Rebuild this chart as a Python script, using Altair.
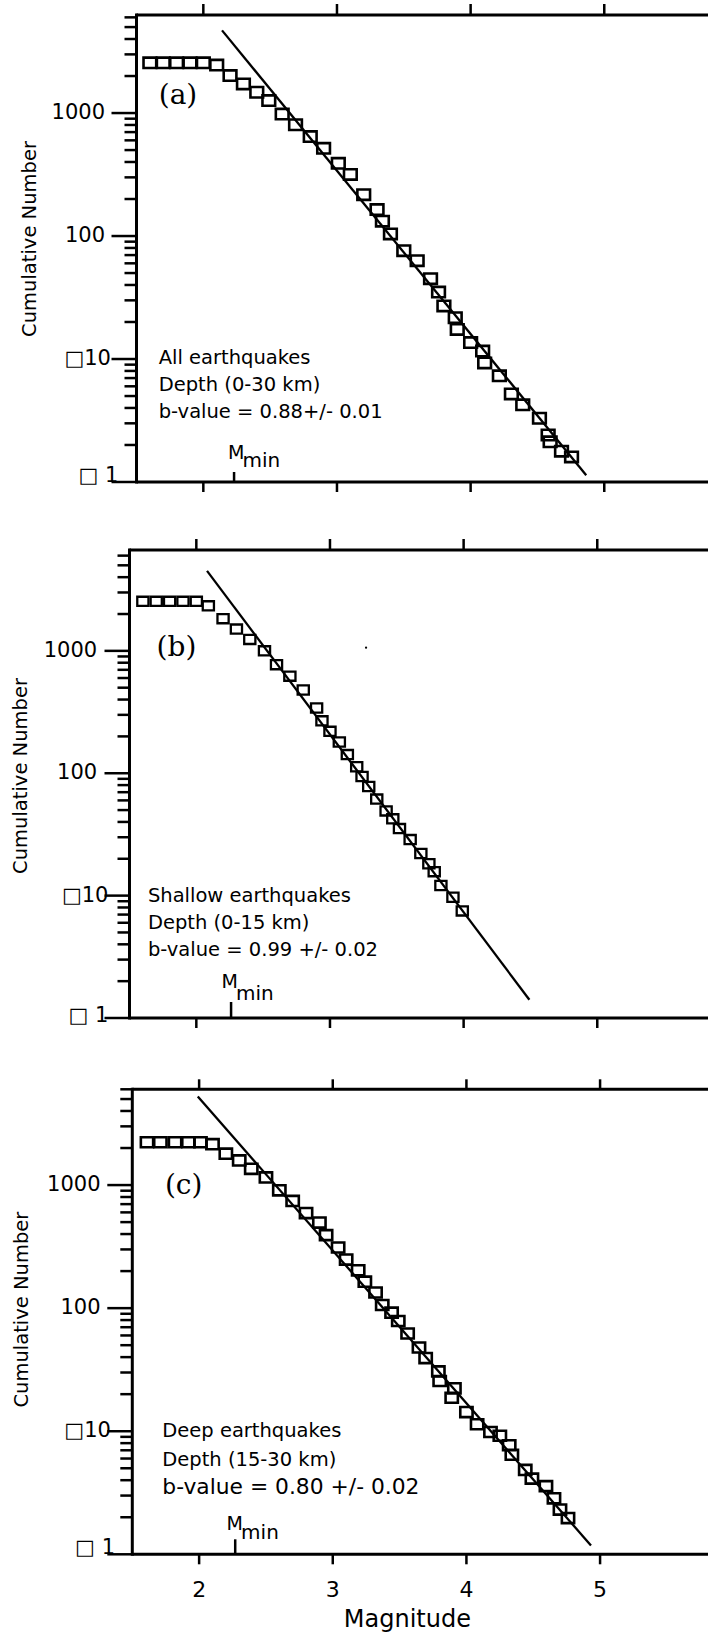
import math
import altair as alt
import pandas as pd

# ---------------- data ----------------
# Panel (a) all earthquakes
mag_a = [1.60, 1.70, 1.80, 1.90, 2.00, 2.10, 2.20, 2.30, 2.40, 2.49, 2.59, 2.69, 2.80,
         2.90, 3.01, 3.10, 3.20, 3.30, 3.34, 3.40, 3.50, 3.60, 3.70, 3.76, 3.80, 3.885,
         3.90, 4.00, 4.09, 4.105, 4.215, 4.305, 4.39, 4.515, 4.58, 4.595, 4.68, 4.755]
num_a = [2560, 2560, 2560, 2560, 2560, 2455, 2018, 1726, 1476, 1262, 981, 803, 644,
         517, 390, 317, 217, 164, 132, 104, 76, 63, 45, 35, 27, 21.7,
         17.4, 13.6, 11.6, 9.3, 7.3, 5.2, 4.24, 3.3, 2.41, 2.12, 1.78, 1.6]
fit_a_mag = [2.14, 4.865]
fit_a_num = [4700, 1.135]

# Panel (b) shallow earthquakes
mag_b = [1.60, 1.70, 1.80, 1.90, 2.00, 2.09, 2.20, 2.30, 2.40, 2.51, 2.60, 2.70, 2.80,
         2.90, 2.94, 3.00, 3.07, 3.13, 3.20, 3.24, 3.29, 3.35, 3.42, 3.47, 3.52, 3.60,
         3.68, 3.74, 3.78, 3.83, 3.92, 3.99]
num_b = [2540, 2540, 2540, 2540, 2540, 2333, 1833, 1507, 1240, 1000, 771, 621, 479,
         341, 268, 220, 180, 142, 113, 94, 78, 61.5, 49.2, 42.4, 35.3, 28.7,
         22.1, 18.2, 15.7, 12.1, 9.7, 7.5]
fit_b_mag = [2.08, 4.492]
fit_b_num = [4500, 1.41]
dot_b_mag = [3.27]
dot_b_num = [1062]

# Panel (c) deep earthquakes
mag_c = [1.61, 1.71, 1.82, 1.92, 2.01, 2.10, 2.20, 2.30, 2.39, 2.50, 2.60, 2.70, 2.80,
         2.90, 2.95, 3.04, 3.10, 3.19, 3.24, 3.32, 3.37, 3.44, 3.49, 3.56, 3.645, 3.695,
         3.79, 3.80, 3.91, 3.89, 4.00, 4.08, 4.18, 4.25, 4.32, 4.34, 4.44, 4.49, 4.595,
         4.655, 4.70, 4.76]
num_c = [2228, 2228, 2228, 2228, 2228, 2148, 1800, 1585, 1356, 1153, 906, 743, 592,
         496, 392, 311, 248, 203, 164, 134, 106, 91.9, 78.6, 62.2, 47.9, 39.3,
         30.6, 25.6, 22.3, 18.7, 14.3, 11.4, 9.86, 9.19, 7.69, 6.44, 4.85, 4.12, 3.58,
         2.85, 2.31, 1.97]
fit_c_mag = [1.99, 4.932]
fit_c_num = [5250, 1.18]

# axis ticks / labels
x_tick_values = [2, 3, 4, 5]
x_tick_labels = ["2", "3", "4", "5"]
y_major_values = [1, 10, 100, 1000]
y_minor_values = [2, 3, 4, 5, 6, 7, 8, 9, 20, 30, 40, 50, 60, 70, 80, 90,
                  200, 300, 400, 500, 600, 700, 800, 900, 2000, 3000, 4000, 5000, 6000]
y_big_labels = ["1000", "100"]
y_big_values = [1000, 100]
y_label_10 = "\u25a110"
y_label_1 = "\u25a1 1"

# annotation texts
texts_a = ["All earthquakes", "Depth (0-30 km)", "b-value = 0.88+/- 0.01"]
texts_b = ["Shallow earthquakes", "Depth (0-15 km)", "b-value = 0.99 +/- 0.02"]
texts_c = ["Deep earthquakes", "Depth (15-30 km)", "b-value = 0.80 +/- 0.02"]

FONT = "DejaVu Sans"
CANVAS_W, CANVAS_H = 709, 1633
X_MIN = 1.5
PXM = 133.65  # pixels per magnitude unit
SQ = "M-1,-0.82L1,-0.82L1,0.82L-1,0.82Z"


def panel_layers(cfg):
    L, T, W, H, ymax = cfg["left"], cfg["top"], cfg["w"], cfg["h"], cfg["ymax"]
    xmax = X_MIN + W / PXM
    lmax = math.log10(ymax)
    xs = alt.Scale(domain=[X_MIN, xmax], range=[L, L + W], nice=False, zero=False)
    ys = alt.Scale(type="log", domain=[1, ymax], range=[T + H, T], nice=False)

    def X(f="m"):
        return alt.X(f + ":Q", scale=xs, axis=None)

    def Y(f="n"):
        return alt.Y(f + ":Q", scale=ys, axis=None)

    # position given in pixels from plot's top-left -> data coordinates
    def dm(px):
        return X_MIN + px / PXM

    def dn(py):
        return 10 ** (lmax * (1 - py / H))

    out = []
    frame = pd.DataFrame({"m1": [X_MIN], "m2": [xmax], "n1": [1], "n2": [ymax]})
    out.append(alt.Chart(frame).mark_rule(color="black", strokeWidth=3, strokeCap="square")
               .encode(x=X("m1"), y=Y("n1"), y2=alt.Y2("n2")))
    out.append(alt.Chart(frame).mark_rule(color="black", strokeWidth=3)
               .encode(x=X("m1"), x2=alt.X2("m2"), y=Y("n2")))
    out.append(alt.Chart(frame).mark_rule(color="black", strokeWidth=3)
               .encode(x=X("m1"), x2=alt.X2("m2"), y=Y("n1")))

    xt = pd.DataFrame({"m": x_tick_values, "lo": [1] * 4, "hi": [ymax] * 4,
                       "t": x_tick_labels})
    out.append(alt.Chart(xt).mark_rule(color="black", strokeWidth=2.5, y2Offset=10)
               .encode(x=X("m"), y=Y("lo"), y2=alt.Y2("lo")))
    out.append(alt.Chart(xt).mark_rule(color="black", strokeWidth=2.5,
                                       y2Offset=-cfg["top_len"])
               .encode(x=X("m"), y=Y("hi"), y2=alt.Y2("hi")))

    minor = [v for v in y_minor_values if v <= ymax]
    ymn = pd.DataFrame({"n": minor, "m": [X_MIN] * len(minor)})
    out.append(alt.Chart(ymn).mark_rule(color="black", strokeWidth=2.5, x2Offset=-12)
               .encode(y=Y("n"), x=X("m"), x2=alt.X2("m")))
    ymj = pd.DataFrame({"n": y_major_values, "m": [X_MIN] * 4})
    out.append(alt.Chart(ymj).mark_rule(color="black", strokeWidth=2.5, x2Offset=-25)
               .encode(y=Y("n"), x=X("m"), x2=alt.X2("m")))

    big = pd.DataFrame({"n": y_big_values, "t": y_big_labels, "m": [X_MIN] * 2})
    out.append(alt.Chart(big).mark_text(font=FONT, fontSize=21, align="right",
                                        baseline="middle", color="black",
                                        dx=cfg["lab_big_x"])
               .encode(x=X("m"), y=Y("n"), text="t:N"))
    out.append(alt.Chart(pd.DataFrame({"n": [10], "t": [y_label_10], "m": [X_MIN]}))
               .mark_text(font=FONT, fontSize=21, align="right", baseline="middle",
                          color="black", dx=cfg["lab10_x"])
               .encode(x=X("m"), y=Y("n"), text="t:N"))
    out.append(alt.Chart(pd.DataFrame({"n": [1], "t": [y_label_1], "m": [X_MIN]}))
               .mark_text(font=FONT, fontSize=21, align="right", baseline="alphabetic",
                          color="black", dx=cfg["lab1_x"], dy=cfg["lab1_dy"])
               .encode(x=X("m"), y=Y("n"), text="t:N"))

    # y title
    out.append(alt.Chart(pd.DataFrame({"m": [dm(cfg["title_x"])], "n": [dn(cfg["title_y"])],
                                       "t": ["Cumulative Number"]}))
               .mark_text(font=FONT, fontSize=19.5, angle=270, align="center",
                          baseline="middle", color="black")
               .encode(x=X("m"), y=Y("n"), text="t:N"))

    if cfg["show_x"]:
        out.append(alt.Chart(xt).mark_text(font=FONT, fontSize=22, align="center",
                                           baseline="alphabetic", color="black", dy=42.4)
                   .encode(x=X("m"), y=Y("lo"), text="t:N"))
        out.append(alt.Chart(pd.DataFrame({"m": [dm(cfg["xtitle_x"])], "n": [1],
                                           "t": ["Magnitude"]}))
                   .mark_text(font=FONT, fontSize=24, align="center",
                              baseline="alphabetic", color="black", dy=72.7)
                   .encode(x=X("m"), y=Y("n"), text="t:N"))

    # data
    pts = pd.DataFrame({"m": cfg["mags"], "n": cfg["nums"]})
    out.append(alt.Chart(pts).mark_point(shape=SQ, filled=False, stroke="black",
                                         strokeWidth=cfg["sw"], size=cfg["size"], opacity=1)
               .encode(x=X(), y=Y()))
    out.append(alt.Chart(pd.DataFrame({"m": cfg["fit_m"], "n": cfg["fit_n"]}))
               .mark_line(color="black", strokeWidth=2.3).encode(x=X(), y=Y()))
    if cfg.get("dot_m"):
        out.append(alt.Chart(pd.DataFrame({"m": cfg["dot_m"], "n": cfg["dot_n"]}))
                   .mark_point(shape="circle", filled=True, color="black", size=5, opacity=1)
                   .encode(x=X(), y=Y()))

    # M_min marker
    mm = pd.DataFrame({"m": [cfg["mmin"]], "n": [1]})
    out.append(alt.Chart(mm).mark_rule(color="black", strokeWidth=2.5,
                                       y2Offset=-cfg["mmin_len"])
               .encode(x=X("m"), y=Y("n"), y2=alt.Y2("n")))
    out.append(alt.Chart(mm).mark_text(font=FONT, fontSize=19, align="left",
                                       baseline="alphabetic", color="black",
                                       dx=cfg["min_dx"] - 14.5, dy=-cfg["M_base"])
               .encode(x=X("m"), y=Y("n"), text=alt.value("M")))
    out.append(alt.Chart(mm).mark_text(font=FONT, fontSize=20, align="left",
                                       baseline="alphabetic", color="black",
                                       dx=cfg["min_dx"], dy=-cfg["min_base"])
               .encode(x=X("m"), y=Y("n"), text=alt.value("min")))

    # panel tag and text block
    tx, ty = cfg["tag_xy"]
    out.append(alt.Chart(pd.DataFrame({"m": [dm(tx)], "n": [dn(ty)], "t": [cfg["tag"]]}))
               .mark_text(font="DejaVu Serif", fontSize=28, align="center",
                          baseline="middle", color="black")
               .encode(x=X(), y=Y(), text="t:N"))
    bx = cfg["txt_x"]
    by = cfg["txt_y"]
    out.append(alt.Chart(pd.DataFrame({"m": [dm(bx)] * 2, "n": [dn(by[0]), dn(by[1])],
                                       "t": cfg["texts"][:2]}))
               .mark_text(font=FONT, fontSize=19.5, align="left", baseline="alphabetic",
                          color="black")
               .encode(x=X(), y=Y(), text="t:N"))
    out.append(alt.Chart(pd.DataFrame({"m": [dm(bx)], "n": [dn(by[2])],
                                       "t": cfg["texts"][2:]}))
               .mark_text(font=FONT, fontSize=cfg["bsize"], align="left",
                          baseline="alphabetic", color="black")
               .encode(x=X(), y=Y(), text="t:N"))
    return out


cfg_a = dict(left=136.5, top=15, w=571.5, h=467, ymax=6270, mags=mag_a, nums=num_a,
             fit_m=fit_a_mag, fit_n=fit_a_num, show_x=False, title_x=-106.5, title_y=224,
             sw=2.6, size=161, top_len=11, lab_big_x=-31.5, lab10_x=-25.5,
             lab1_x=-18.2, lab1_dy=0, mmin=2.23, mmin_len=10, min_dx=8.4,
             M_base=22.7, min_base=14.7, tag="(a)", tag_xy=(41.5, 81),
             texts=texts_a, txt_x=22.2, txt_y=[349, 375.8, 402.6], bsize=19.5)
cfg_b = dict(left=129.5, top=550, w=578.5, h=468, ymax=6670, mags=mag_b, nums=num_b,
             fit_m=fit_b_mag, fit_n=fit_b_num, show_x=False, title_x=-108.4, title_y=226,
             sw=2.3, size=125, top_len=11, lab_big_x=-32.3, lab10_x=-21,
             lab1_x=-21.2, lab1_dy=4, mmin=2.26, mmin_len=16, min_dx=5,
             M_base=30, min_base=18, tag="(b)", tag_xy=(47, 98),
             texts=texts_b, txt_x=18.4, txt_y=[351.5, 378.6, 406.3], bsize=19.5,
             dot_m=dot_b_mag, dot_n=dot_b_num)
cfg_c = dict(left=132.3, top=1089.3, w=575.7, h=465, ymax=6000, mags=mag_c, nums=num_c,
             fit_m=fit_c_mag, fit_n=fit_c_num, show_x=True, title_x=-110, title_y=220.3,
             sw=2.6, size=151, top_len=10, lab_big_x=-31.8, lab10_x=-21.4,
             lab1_x=-17.3, lab1_dy=0, mmin=2.27, mmin_len=15, min_dx=5.9,
             M_base=24.6, min_base=15, tag="(c)", tag_xy=(51.4, 96.7),
             texts=texts_c, txt_x=30, txt_y=[347.7, 376.2, 404.5], bsize=21.8,
             xtitle_x=275.1)

layers = panel_layers(cfg_a) + panel_layers(cfg_b) + panel_layers(cfg_c)

chart = alt.layer(*layers).resolve_scale(x="independent", y="independent").properties(
    width=CANVAS_W, height=CANVAS_H,
    autosize=alt.AutoSizeParams(type="none"),
    padding=0,
).configure(font=FONT).configure_view(stroke="transparent", strokeWidth=0)

chart.save("out.html", embed_options={"renderer": "svg", "actions": False})
